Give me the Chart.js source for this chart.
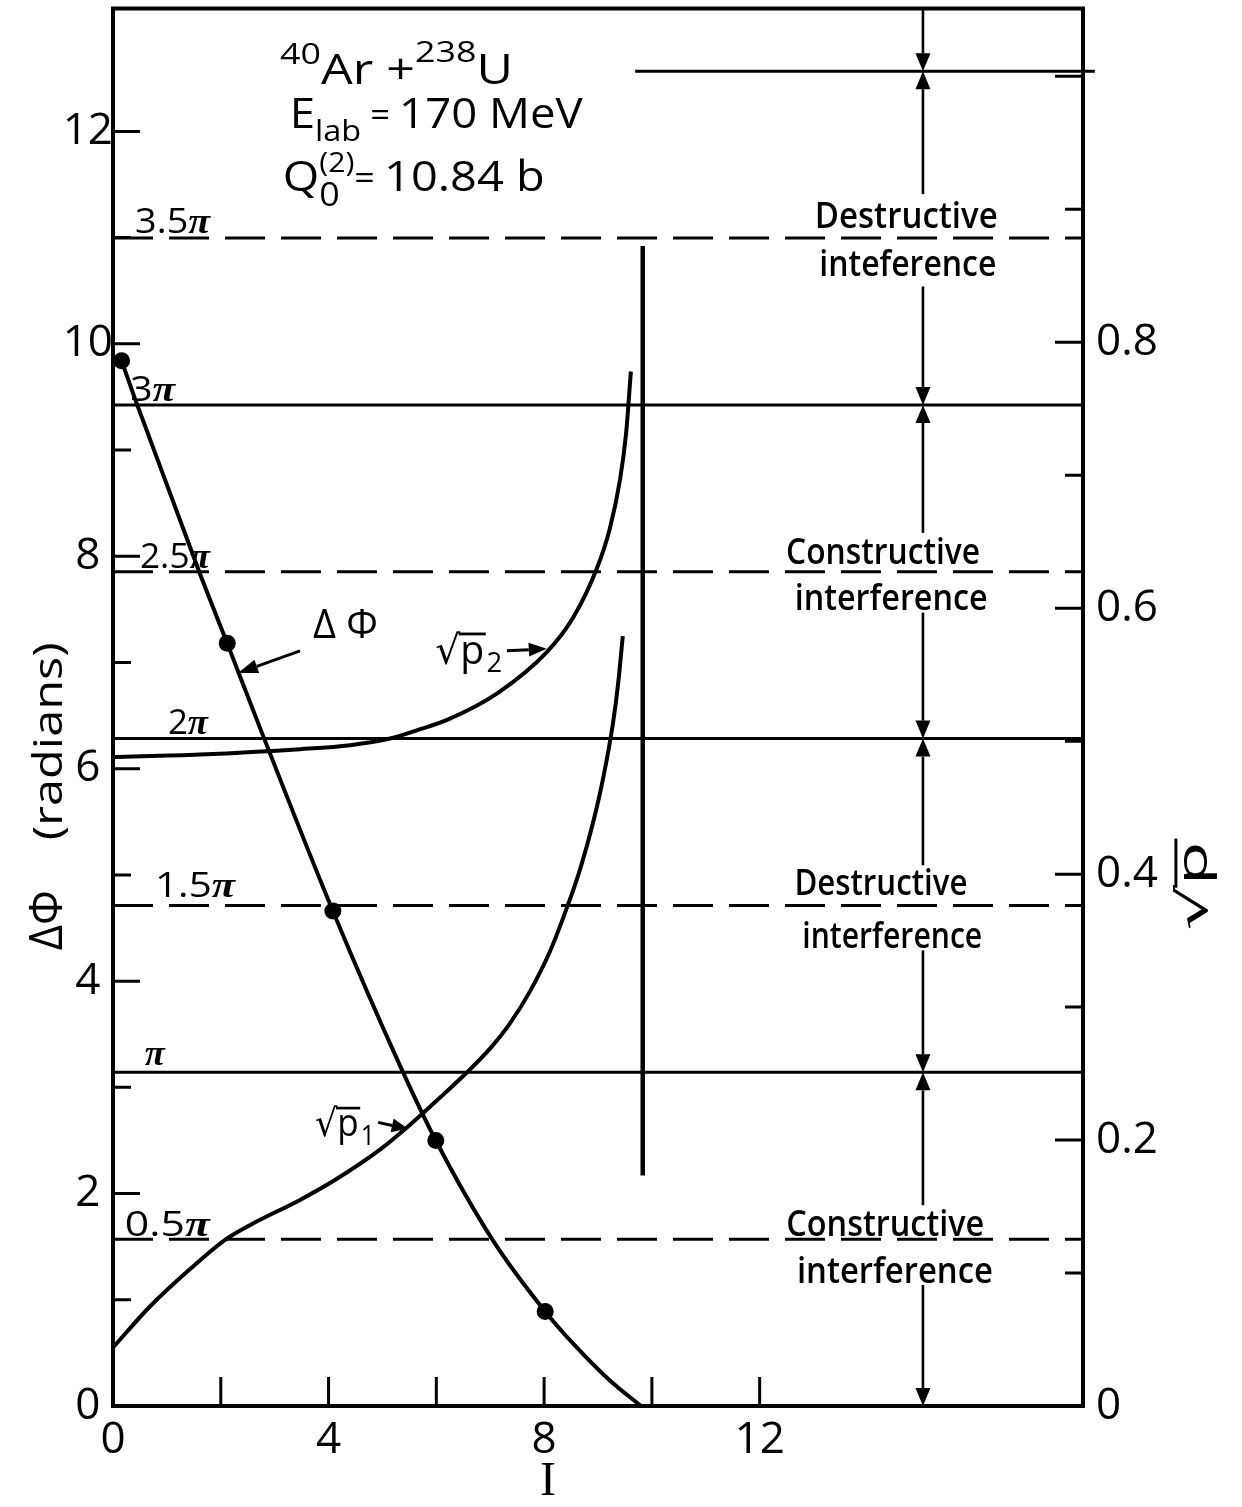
<!DOCTYPE html>
<html>
<head>
<meta charset="utf-8">
<script src="https://cdn.jsdelivr.net/npm/chart.js@4.4.1/dist/chart.umd.min.js"></script>
<style>
  html, body { margin: 0; padding: 0; background: #fff; }
</style>
</head>
<body>
<canvas id="phaseChart" width="1242" height="1507"></canvas>
<script>
// ΔΦ (left axis, radians) against I
const phiI = [0.16, 0.41, 1.61, 2.12, 2.80, 4.08, 5.33, 5.99, 7.05, 8.02, 8.57, 9.22, 9.80];
const phiV = [9.84, 9.48, 7.84, 7.18, 6.29, 4.66, 3.20, 2.50, 1.56, 0.89, 0.57, 0.24, 0.0];
// computed points marked with dots
const dotI = [0.16, 2.12, 4.08, 5.99, 8.02];
const dotV = [9.84, 7.18, 4.66, 2.50, 0.89];
// sqrt(p2) and sqrt(p1), right axis
const p2I = [0, 1.61, 3.47, 4.40, 5.14, 5.70, 6.20, 7.13, 8.05, 8.54, 8.98, 9.22, 9.41, 9.52, 9.61];
const p2R = [0.488, 0.490, 0.494, 0.497, 0.502, 0.509, 0.516, 0.536, 0.567, 0.593, 0.630, 0.660, 0.697, 0.731, 0.778];
const p1I = [0, 0.69, 1.43, 2.08, 2.54, 3.47, 4.08, 4.96, 5.47, 6.07, 6.57, 7.00, 7.37, 7.74, 8.11, 8.39, 8.67, 8.91, 9.09, 9.28, 9.37, 9.46];
const p1R = [0.044, 0.075, 0.103, 0.125, 0.136, 0.155, 0.169, 0.193, 0.210, 0.232, 0.251, 0.269, 0.288, 0.312, 0.342, 0.371, 0.404, 0.439, 0.471, 0.514, 0.542, 0.579];
// vertical cut-off line
const cutI = [9.83, 9.83];
const cutV = [2.17, 10.92];
// multiples of pi drawn as reference levels
const piLevels = [0.5, 1, 1.5, 2, 2.5, 3, 3.5];
const fourPiI = [9.69, 18.22];
// tick labels
const xTickLabels = [0, 4, 8, 12];
const yTickLabels = [0, 2, 4, 6, 8, 10, 12];
const y2TickLabels = [0, 0.2, 0.4, 0.6, 0.8];

const FONT = "'Open Sans', 'DejaVu Sans', sans-serif";
const toXY = (xs, ys) => xs.map((x, i) => ({ x: x, y: ys[i] }));

// annotations, placed in data units (I, ΔΦ)
const levelNotes = [
  { num: '3.5', I: 0.41, v: 11.04, w: 75 },
  { num: '3', I: 0.32, v: 9.46, w: 45 },
  { num: '2.5', I: 0.50, v: 7.89, w: 70 },
  { num: '2', I: 1.02, v: 6.33, w: 40 },
  { num: '1.5', I: 0.78, v: 4.79, w: 80 },
  { num: '', I: 0.59, v: 3.21, w: 20 },
  { num: '0.5', I: 0.22, v: 1.60, w: 85 }
];
const bandNotes = [
  { text: 'Destructive', I: 14.72, v: 11.09, w: 183 },
  { text: 'inteference', I: 14.75, v: 10.64, w: 177 },
  { text: 'Constructive', I: 14.29, v: 7.93, w: 194 },
  { text: 'interference', I: 14.44, v: 7.49, w: 193 },
  { text: 'Destructive', I: 14.25, v: 4.81, w: 173 },
  { text: 'interference', I: 14.46, v: 4.31, w: 180 },
  { text: 'Constructive', I: 14.33, v: 1.60, w: 198 },
  { text: 'interference', I: 14.51, v: 1.16, w: 196 }
];
// vertical arrows between levels: [tail, head]
const bandArrowI = 15.03;
const bandArrows = [
  [13.16, 4 * Math.PI], [11.41, 4 * Math.PI],
  [10.54, 3 * Math.PI], [8.22, 3 * Math.PI],
  [7.47, 2 * Math.PI], [5.09, 2 * Math.PI],
  [4.29, Math.PI], [1.89, Math.PI],
  [1.14, 0]
];

function richText(ctx, parts, x, y, width) {
  ctx.save();
  ctx.textBaseline = 'alphabetic';
  ctx.textAlign = 'left';
  let total = 0, prevStart = 0, prevW = 0;
  parts.forEach(p => {
    ctx.font = (p.style || '') + ' ' + p.size + 'px ' + (p.family || FONT);
    p.w = ctx.measureText(p.t).width;
    if (p.over) {
      p.x = prevStart;
      total = prevStart + Math.max(prevW, p.w);
    } else {
      p.x = total;
      prevStart = total;
      prevW = p.w;
      total += p.w;
    }
  });
  ctx.translate(x, y);
  ctx.scale(width ? width / total : 1, 1);
  parts.forEach(p => {
    ctx.font = (p.style || '') + ' ' + p.size + 'px ' + (p.family || FONT);
    ctx.fillText(p.t, p.x, p.dy || 0);
  });
  ctx.restore();
}

function drawRoot(ctx, x, y, size, sub, width, rot) {
  ctx.save();
  ctx.translate(x, y);
  if (rot) ctx.rotate(rot);
  const rootFont = size + "px 'DejaVu Sans'";
  const pFont = size + 'px ' + FONT;
  const subFont = Math.round(size * 0.7) + 'px ' + FONT;
  ctx.font = rootFont; const rw = ctx.measureText('√').width;
  ctx.font = pFont; const pw = ctx.measureText('p').width;
  ctx.font = subFont; const sw = sub ? ctx.measureText(sub).width : 0;
  const total = rw + pw + sw + size * 0.06;
  ctx.scale(width ? width / total : 1, 1);
  ctx.textBaseline = 'alphabetic';
  ctx.textAlign = 'left';
  ctx.font = rootFont; ctx.fillText('√', 0, 0);
  ctx.font = pFont; ctx.fillText('p', rw, 0);
  ctx.lineWidth = size * 0.07;
  ctx.beginPath();
  ctx.moveTo(rw - size * 0.04, -size * 0.74);
  ctx.lineTo(rw + pw + size * 0.04, -size * 0.74);
  ctx.stroke();
  if (sub) { ctx.font = subFont; ctx.fillText(sub, rw + pw + size * 0.06, size * 0.22); }
  ctx.restore();
}

function arrow(ctx, x1, y1, x2, y2, len, half, width) {
  const ang = Math.atan2(y2 - y1, x2 - x1);
  const bx = x2 - len * Math.cos(ang), by = y2 - len * Math.sin(ang);
  ctx.lineWidth = width;
  ctx.beginPath();
  ctx.moveTo(x1, y1);
  ctx.lineTo(bx, by);
  ctx.stroke();
  ctx.beginPath();
  ctx.moveTo(x2, y2);
  ctx.lineTo(bx + half * Math.sin(ang), by - half * Math.cos(ang));
  ctx.lineTo(bx - half * Math.sin(ang), by + half * Math.cos(ang));
  ctx.closePath();
  ctx.fill();
}

const framePlugin = {
  id: 'frameAndNotes',
  afterDraw(chart) {
    const { ctx, chartArea: a, scales: { x, y, y2 } } = chart;
    const X = v => x.getPixelForValue(v);
    const Y = v => y.getPixelForValue(v);
    ctx.save();
    ctx.fillStyle = '#000';
    ctx.strokeStyle = '#000';

    // inward tick marks
    ctx.lineWidth = 3;
    ctx.beginPath();
    y.ticks.forEach(t => {
      const v = t.value;
      if (v <= 0 || v > 12 || Math.abs(v - Math.round(v)) > 1e-6) return;
      ctx.moveTo(a.left, Y(v));
      ctx.lineTo(a.left + (Math.round(v) % 2 === 0 ? 27 : 18), Y(v));
    });
    y2.ticks.forEach(t => {
      const k = Math.round(t.value * 10);
      if (Math.abs(t.value * 10 - k) > 1e-6 || k < 1 || k > 10) return;
      const py = y2.getPixelForValue(t.value);
      ctx.moveTo(a.right, py);
      ctx.lineTo(a.right - (k % 2 === 0 ? 28 : 18), py);
    });
    x.ticks.forEach(t => {
      if (t.value <= 0 || t.value > 12) return;
      ctx.moveTo(X(t.value), a.bottom);
      ctx.lineTo(X(t.value), a.bottom - 29);
    });
    ctx.stroke();

    // frame
    ctx.lineWidth = 4;
    ctx.strokeRect(a.left, a.top, a.right - a.left, a.bottom - a.top);

    // level labels
    levelNotes.forEach(n => {
      const parts = [];
      if (n.num) parts.push({ t: n.num, size: 34 });
      parts.push({ t: 'π', size: 36, style: 'italic bold', family: "'Liberation Serif', serif" });
      richText(ctx, parts, X(n.I), Y(n.v), n.w);
    });

    // band notes
    bandNotes.forEach(n => {
      ctx.save();
      ctx.font = '600 36px ' + FONT;
      const w = ctx.measureText(n.text).width;
      ctx.translate(X(n.I), Y(n.v));
      ctx.scale(n.w / w, 1);
      ctx.textAlign = 'center';
      ctx.textBaseline = 'alphabetic';
      ctx.fillText(n.text, 0, 0);
      ctx.restore();
    });

    // arrows between levels
    bandArrows.forEach(s => {
      arrow(ctx, X(bandArrowI), Y(s[0]), X(bandArrowI), Y(s[1]), 18, 7.5, 2.6);
    });

    // header
    richText(ctx, [
      { t: '40', size: 30, dy: -20 }, { t: 'Ar', size: 42 }, { t: ' +', size: 42 },
      { t: '238', size: 30, dy: -22 }, { t: 'U', size: 42 }
    ], X(3.10), Y(12.45), 233);
    richText(ctx, [
      { t: 'E', size: 42 }, { t: 'lab', size: 30, dy: 13 }, { t: ' = ', size: 32, dy: -2 },
      { t: '170 MeV', size: 42 }
    ], X(3.28), Y(12.03), 293);
    richText(ctx, [
      { t: 'Q', size: 42 }, { t: '(2)', size: 27, dy: -19 }, { t: '0', size: 32, dy: 15, over: true },
      { t: '= ', size: 32, dy: -2 }, { t: '10.84 b', size: 42 }
    ], X(3.15), Y(11.44), 262);

    // curve labels and pointers
    richText(ctx, [{ t: 'Δ Φ', size: 40 }], X(3.71), Y(7.23), 65);
    arrow(ctx, X(3.47), Y(7.11), X(2.32), Y(6.90), 20, 7, 3);
    drawRoot(ctx, X(5.98), Y(6.99), 40, '2', 67);
    arrow(ctx, X(7.31), Y(7.11), X(8.05), Y(7.13), 18, 7, 3);
    drawRoot(ctx, X(3.75), Y(2.54), 38, '1', 60);
    arrow(ctx, X(4.92), Y(2.67), X(5.47), Y(2.61), 16, 7, 3);

    // axis titles
    ctx.save();
    ctx.translate(62, Y(4.29));
    ctx.rotate(-Math.PI / 2);
    richText(ctx, [{ t: 'ΔΦ', size: 46 }], 0, 0, 60);
    richText(ctx, [{ t: '(radians)', size: 40 }], 110, 0, 198);
    ctx.restore();
    drawRoot(ctx, 1207, Y(4.48), 42, '', 93, -Math.PI / 2);
    ctx.font = "48px 'Liberation Serif', serif";
    ctx.textAlign = 'center';
    ctx.textBaseline = 'alphabetic';
    ctx.fillText('I', X(8.07), 1495);
    ctx.restore();
  }
};

const lineStyle = { showLine: true, pointRadius: 0, borderColor: '#000', backgroundColor: '#000', fill: false };
const datasets = piLevels.map(k => Object.assign({}, lineStyle, {
  data: [{ x: 0, y: k * Math.PI }, { x: 18, y: k * Math.PI }],
  borderWidth: 3,
  borderDash: k % 1 ? [40, 16] : [],
  yAxisID: 'y'
}));
datasets.push(Object.assign({}, lineStyle, {
  data: toXY(fourPiI, [4 * Math.PI, 4 * Math.PI]), borderWidth: 3, yAxisID: 'y', clip: false
}));
datasets.push(Object.assign({}, lineStyle, {
  data: toXY(phiI, phiV), borderWidth: 4, cubicInterpolationMode: 'monotone', yAxisID: 'y'
}));
datasets.push({
  data: toXY(dotI, dotV), showLine: false, pointRadius: 8.5, pointBorderWidth: 0,
  pointBackgroundColor: '#000', yAxisID: 'y'
});
datasets.push(Object.assign({}, lineStyle, {
  data: toXY(p2I, p2R), borderWidth: 4, cubicInterpolationMode: 'monotone', yAxisID: 'y2'
}));
datasets.push(Object.assign({}, lineStyle, {
  data: toXY(p1I, p1R), borderWidth: 4, cubicInterpolationMode: 'monotone', yAxisID: 'y2'
}));
datasets.push(Object.assign({}, lineStyle, {
  data: toXY(cutI, cutV), borderWidth: 4.5, yAxisID: 'y'
}));

function fixBox(size, horizontal) {
  return function (scale) {
    if (horizontal) scale.height = size; else scale.width = size;
    scale.paddingTop = 0; scale.paddingBottom = 0;
    scale.paddingLeft = 0; scale.paddingRight = 0;
  };
}

const tickFont = { family: FONT, size: 44 };
new Chart(document.getElementById('phaseChart').getContext('2d'), {
  type: 'scatter',
  data: { datasets: datasets },
  options: {
    responsive: false,
    animation: false,
    devicePixelRatio: 1,
    events: [],
    layout: { padding: { top: 7, left: 0, right: 0, bottom: 0 } },
    plugins: { legend: { display: false }, tooltip: { enabled: false } },
    scales: {
      x: {
        type: 'linear', min: 0, max: 18,
        grid: { display: false, drawTicks: false },
        border: { display: false },
        ticks: {
          stepSize: 2, padding: 8, color: '#000', font: tickFont, maxRotation: 0, autoSkip: false,
          callback: v => xTickLabels.includes(v) ? String(v) : ''
        },
        afterFit: fixBox(101, true)
      },
      y: {
        type: 'linear', position: 'left', min: 0, max: 13.157,
        grid: { display: false, drawTicks: false },
        border: { display: false },
        ticks: {
          stepSize: 1, padding: 0, crossAlign: 'center', color: '#000', font: tickFont, autoSkip: false,
          callback: v => yTickLabels.includes(v) ? String(v) : ''
        },
        afterFit: fixBox(113, false)
      },
      y2: {
        type: 'linear', position: 'right', min: 0, max: 1.051,
        grid: { display: false, drawTicks: false },
        border: { display: false },
        ticks: {
          stepSize: 0.1, padding: 13, color: '#000', font: tickFont, autoSkip: false,
          callback: v => {
            const r = Math.round(v * 10) / 10;
            if (Math.abs(v - r) > 1e-6 || !y2TickLabels.includes(r)) return '';
            return r === 0 ? '0' : r.toFixed(1);
          }
        },
        afterFit: fixBox(159, false)
      }
    }
  },
  plugins: [framePlugin]
});
</script>
</body>
</html>
